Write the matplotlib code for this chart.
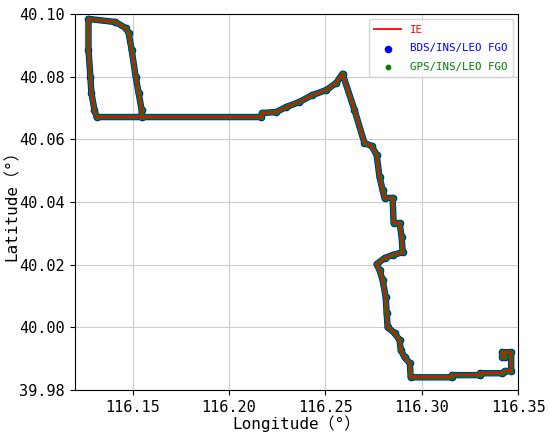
import matplotlib
matplotlib.use('Agg')
import matplotlib.pyplot as plt
from matplotlib.ticker import FormatStrFormatter

plt.rcParams['font.family'] = ['DejaVu Sans Mono', 'Noto Sans CJK SC']

# trajectory waypoints
lon = [116.1547, 116.1547, 116.1531, 116.1516, 116.1495, 116.1479, 116.1464, 116.1411,
       116.1271, 116.1271, 116.1281, 116.1286, 116.1302, 116.1313,
       116.2167, 116.2172, 116.2245, 116.2297, 116.2365, 116.2432, 116.2505, 116.2557, 116.2589,
       116.2651, 116.2703, 116.2740, 116.2766, 116.2781, 116.2797, 116.2807, 116.2849,
       116.2854, 116.2885, 116.2896, 116.2901, 116.2849, 116.2807, 116.2766, 116.2781,
       116.2797, 116.2813, 116.2818, 116.2823, 116.2859, 116.2885, 116.2891, 116.2911,
       116.2938, 116.2943, 116.3156, 116.3156, 116.3302, 116.3302, 116.3417, 116.3432,
       116.3464, 116.3464, 116.3417, 116.3417, 116.3432]
lat = [40.0671, 40.0694, 40.0748, 40.0799, 40.0885, 40.0939, 40.0955, 40.0974,
       40.0984, 40.0885, 40.0799, 40.0748, 40.0694, 40.0671,
       40.0671, 40.0684, 40.0687, 40.0703, 40.0719, 40.0741, 40.0757, 40.0780, 40.0809,
       40.0694, 40.0588, 40.0579, 40.0550, 40.0480, 40.0438, 40.0413, 40.0413,
       40.0333, 40.0333, 40.0288, 40.0240, 40.0231, 40.0221, 40.0202, 40.0183,
       40.0151, 40.0097, 40.0046, 40.0001, 39.9982, 39.9960, 39.9928, 39.9905,
       39.9886, 39.9841, 39.9841, 39.9848, 39.9848, 39.9854, 39.9854, 39.9861,
       39.9861, 39.9921, 39.9921, 39.9905, 39.9905]

xticks = [116.15, 116.20, 116.25, 116.30, 116.35]
yticks = [39.98, 40.00, 40.02, 40.04, 40.06, 40.08, 40.10]

fig = plt.figure(figsize=(5.5, 4.34), dpi=100)
ax = fig.add_axes([0.136, 0.101, 0.806, 0.867])

# FGO bands: thick line under small dots
ax.plot(lon, lat, color='blue', lw=4.6, solid_joinstyle='round', solid_capstyle='round', zorder=2)
ax.scatter(lon, lat, s=20, color='blue', zorder=2, label='BDS/INS/LEO FGO')
ax.plot(lon, lat, color='green', lw=3.6, solid_joinstyle='round', solid_capstyle='round', zorder=3)
ax.scatter(lon, lat, s=10, color='green', zorder=3, label='GPS/INS/LEO FGO')
ax.plot(lon, lat, color='red', lw=1.3, zorder=4, label='IE')

ax.set_xlim(116.12, 116.35)
ax.set_ylim(39.98, 40.10)
ax.set_xticks(xticks)
ax.set_yticks(yticks)
ax.xaxis.set_major_formatter(FormatStrFormatter('%.2f'))
ax.yaxis.set_major_formatter(FormatStrFormatter('%.2f'))
ax.tick_params(labelsize=11)
ax.grid(True, color='#cccccc', lw=0.8)
ax.set_axisbelow(True)

ax.set_xlabel('Longitude（°）', fontsize=11.5, labelpad=0)
ax.set_ylabel('Latitude（°）', fontsize=11.5, labelpad=0)

h, l = ax.get_legend_handles_labels()
order = [2, 0, 1]
leg = ax.legend([h[i] for i in order], [l[i] for i in order], loc='upper right',
                fontsize=7.8, markerscale=1.0, handlelength=2.5, borderpad=0.5,
                labelspacing=0.8)
for txt, c in zip(leg.get_texts(), ['red', 'blue', 'green']):
    txt.set_color(c)

fig.savefig('out.png', dpi=100)
